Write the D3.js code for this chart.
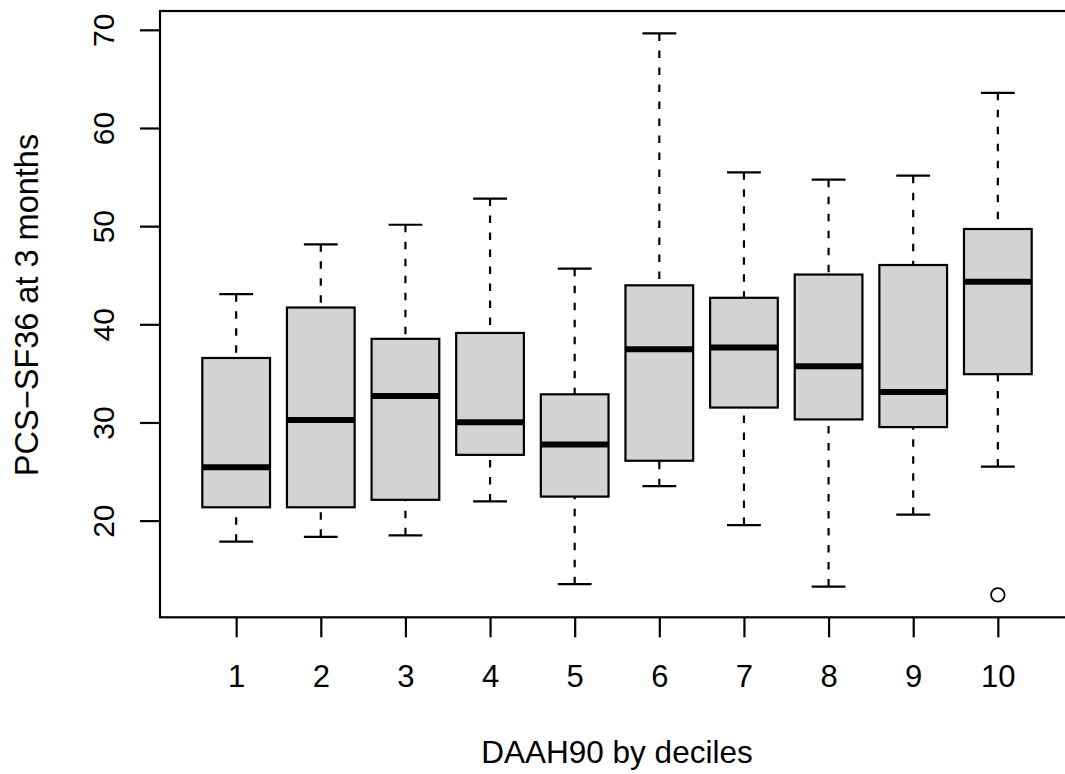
<!DOCTYPE html>
<html>
<head>
<meta charset="utf-8">
<script src="https://cdn.jsdelivr.net/npm/d3@7"></script>
<style>
  body { margin: 0; background: #fff; }
  svg { display: block; background: #fff; }
  text { font-family: "Liberation Sans", Arial, Helvetica, sans-serif; fill: #000; }
</style>
</head>
<body>
<svg id="chart" width="1065" height="774"></svg>
<script>
// Five-number summaries per decile group
const categories   = ["1", "2", "3", "4", "5", "6", "7", "8", "9", "10"];
const whiskerLow   = [17.86, 18.35, 18.50, 21.96, 13.53, 23.51, 19.55, 13.28, 20.61, 25.51];
const lowerQuart   = [21.36, 21.36, 22.12, 26.70, 22.45, 26.10, 31.52, 30.31, 29.53, 34.92];
const medians      = [25.43, 30.24, 32.69, 30.02, 27.76, 37.46, 37.65, 35.73, 33.10, 44.33];
const upperQuart   = [36.57, 41.71, 38.52, 39.12, 32.87, 43.97, 42.70, 45.07, 46.04, 49.71];
const whiskerHigh  = [43.07, 48.15, 50.14, 52.81, 45.67, 69.63, 55.48, 54.73, 55.14, 63.58];
const outlierGroup = ["10"];
const outlierValue = [12.44];
const yTickValues  = [20, 30, 40, 50, 60, 70];
const xTitle = "DAAH90 by deciles";
const yTitle = "PCS\u2212SF36 at 3 months";

const svg = d3.select("#chart");
const plot = { left: 160, right: 1074, top: 11, bottom: 617.3 };

// x positions: groups at 1..n, range padded by half a slot then 4%
const n = categories.length;
const xlo = 0.5, xhi = n + 0.5, xpad = 0.04 * (xhi - xlo);
const x = d3.scaleLinear().domain([xlo - xpad, xhi + xpad]).range([plot.left, plot.right]);

// y range spans all stats and outliers, extended by 4%
const allVals = whiskerLow.concat(whiskerHigh, outlierValue);
const ymin = d3.min(allVals), ymax = d3.max(allVals), ypad = 0.04 * (ymax - ymin);
const y = d3.scaleLinear().domain([ymin - ypad, ymax + ypad]).range([plot.bottom, plot.top]);

const boxHalf = 0.4, capHalf = 0.2;
const groups = categories.map((c, i) => ({
  c, pos: i + 1,
  lo: whiskerLow[i], q1: lowerQuart[i], med: medians[i], q3: upperQuart[i], hi: whiskerHigh[i]
}));

const g = svg.append("g");

const box = g.selectAll("g.box").data(groups).enter().append("g").attr("class", "box");

// whiskers (dashed, from whisker end toward the box)
box.append("line")
  .attr("x1", d => x(d.pos)).attr("x2", d => x(d.pos))
  .attr("y1", d => y(d.hi)).attr("y2", d => y(d.q3))
  .attr("stroke", "#000").attr("stroke-width", 2.2).attr("stroke-dasharray", "7.5,9.5");
box.append("line")
  .attr("x1", d => x(d.pos)).attr("x2", d => x(d.pos))
  .attr("y1", d => y(d.lo)).attr("y2", d => y(d.q1))
  .attr("stroke", "#000").attr("stroke-width", 2.2).attr("stroke-dasharray", "7.5,9.5");

// staples
["hi", "lo"].forEach(k => {
  box.append("line")
    .attr("x1", d => x(d.pos - capHalf)).attr("x2", d => x(d.pos + capHalf))
    .attr("y1", d => y(d[k])).attr("y2", d => y(d[k]))
    .attr("stroke", "#000").attr("stroke-width", 2.2);
});

// boxes
box.append("rect")
  .attr("x", d => x(d.pos - boxHalf))
  .attr("width", d => x(d.pos + boxHalf) - x(d.pos - boxHalf))
  .attr("y", d => y(d.q3))
  .attr("height", d => y(d.q1) - y(d.q3))
  .attr("fill", "#d3d3d3").attr("stroke", "#000").attr("stroke-width", 2.2);

// medians
box.append("line")
  .attr("x1", d => x(d.pos - boxHalf)).attr("x2", d => x(d.pos + boxHalf))
  .attr("y1", d => y(d.med)).attr("y2", d => y(d.med))
  .attr("stroke", "#000").attr("stroke-width", 6);

// outliers
g.selectAll("circle.out").data(outlierValue).enter().append("circle")
  .attr("class", "out")
  .attr("cx", (v, i) => x(categories.indexOf(outlierGroup[i]) + 1))
  .attr("cy", v => y(v))
  .attr("r", 6.8)
  .attr("fill", "none").attr("stroke", "#000").attr("stroke-width", 1.8);

// frame
svg.append("rect")
  .attr("x", plot.left).attr("y", plot.top)
  .attr("width", plot.right - plot.left).attr("height", plot.bottom - plot.top)
  .attr("fill", "none").attr("stroke", "#000").attr("stroke-width", 2.2);

// x axis
const xAxis = svg.append("g")
  .attr("transform", `translate(0,${plot.bottom})`)
  .call(d3.axisBottom(x)
    .tickValues(groups.map(d => d.pos))
    .tickFormat((v, i) => categories[i])
    .tickSize(20).tickPadding(28));
xAxis.select(".domain").remove();
xAxis.selectAll(".tick line").attr("stroke", "#000").attr("stroke-width", 2.2);
xAxis.selectAll(".tick text").attr("font-size", 31).attr("fill", "#000")
  .style("font-family", "'Liberation Sans', Arial, sans-serif");

// y axis with labels parallel to the axis
const yAxis = svg.append("g")
  .attr("transform", `translate(${plot.left},0)`)
  .call(d3.axisLeft(y).tickValues(yTickValues).tickFormat(d3.format("d")).tickSize(20));
yAxis.select(".domain").remove();
yAxis.selectAll(".tick line").attr("stroke", "#000").attr("stroke-width", 2.2);
yAxis.selectAll(".tick text")
  .attr("transform", "rotate(-90)")
  .attr("x", 0).attr("y", -46).attr("dy", null)
  .attr("text-anchor", "middle")
  .attr("font-size", 30).attr("fill", "#000")
  .style("font-family", "'Liberation Sans', Arial, sans-serif");

// axis titles
svg.append("text")
  .attr("x", (plot.left + plot.right) / 2).attr("y", 762.7)
  .attr("text-anchor", "middle").attr("font-size", 31.5)
  .text(xTitle);
svg.append("text")
  .attr("transform", `translate(38,305) rotate(-90)`)
  .attr("text-anchor", "middle").attr("font-size", 32.5)
  .text(yTitle);
</script>
</body>
</html>
